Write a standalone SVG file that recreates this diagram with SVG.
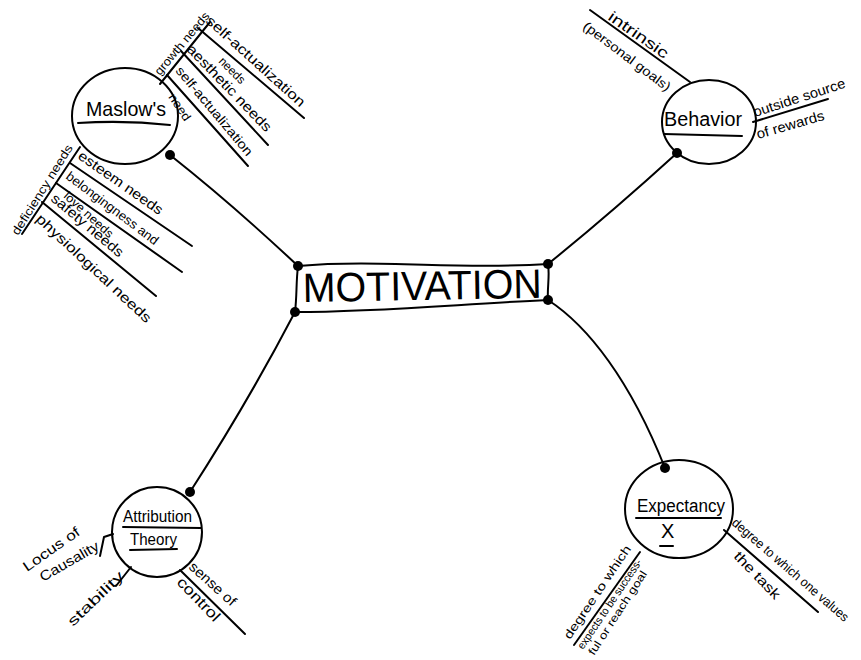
<svg xmlns="http://www.w3.org/2000/svg" width="861" height="660" viewBox="0 0 861 660">
<style>
  .ln{fill:none;stroke:#000;stroke-width:2;stroke-linecap:round;stroke-linejoin:round}
  .dot{fill:#000}
  .t{font-family:"Liberation Sans",Arial,sans-serif;fill:#000}
  .s11{font-size:11px}.s12{font-size:12px}.s13{font-size:13px}.s14{font-size:14px}
</style>
<rect width="861" height="660" fill="#fff"/>

<g id="connectors">
  <path class="ln" d="M170,155 Q232,204 298,266"/>
  <path class="ln" d="M677,153 Q610,214 548,264"/>
  <path class="ln" d="M190,492 Q248,402 295,312"/>
  <path class="ln" d="M548,300 C588,326 630,380 665,468"/>
</g>

<g id="node-motivation">
  <path class="ln" d="M298,266 C380,259 460,270 548,264 C550,276 547,288 548,300 C460,304 380,312 295,312 C297,296 296,282 298,266 Z"/>
  <text class="t" x="303" y="302" font-size="41" textLength="239" lengthAdjust="spacingAndGlyphs" transform="rotate(-1 303 302)">MOTIVATION</text>
  <circle class="dot" cx="298" cy="266" r="5"/>
  <circle class="dot" cx="548" cy="264" r="5"/>
  <circle class="dot" cx="295" cy="312" r="5"/>
  <circle class="dot" cx="548" cy="300" r="5"/>
</g>

<g id="node-maslows">
  <ellipse class="ln" cx="125" cy="116" rx="53" ry="48"/>
  <text class="t" x="86" y="116" font-size="21" textLength="80" lengthAdjust="spacingAndGlyphs">Maslow's</text>
  <path class="ln" d="M78,123 Q125,120 170,125"/>
  <circle class="dot" cx="170" cy="155" r="5"/>
  <!-- growth needs -->
  <path class="ln" d="M160,84 L210,22"/>
  <text class="t s12" transform="translate(160,76) rotate(-50)" textLength="78" lengthAdjust="spacingAndGlyphs">growth needs</text>
  <path class="ln" d="M198,28 L304,118"/>
  <text class="t s14" transform="translate(205,22) rotate(42)" textLength="128" lengthAdjust="spacingAndGlyphs">self-actualization</text>
  <text class="t s12" transform="translate(218,62) rotate(45)" textLength="32" lengthAdjust="spacingAndGlyphs">needs</text>
  <path class="ln" d="M181,51 L268,145"/>
  <text class="t s14" transform="translate(186,50) rotate(46)" textLength="115" lengthAdjust="spacingAndGlyphs">aesthetic needs</text>
  <path class="ln" d="M167,75 L248,166"/>
  <text class="t s13" transform="translate(175,71) rotate(50)" textLength="112" lengthAdjust="spacingAndGlyphs">self-actualization</text>
  <text class="t s12" transform="translate(168,97) rotate(56)" textLength="30" lengthAdjust="spacingAndGlyphs">need</text>
  <!-- deficiency needs -->
  <path class="ln" d="M80,147 L22,234"/>
  <text class="t s12" transform="translate(18,236) rotate(-58)" textLength="104" lengthAdjust="spacingAndGlyphs">deficiency needs</text>
  <path class="ln" d="M70,163 L192,246"/>
  <text class="t s14" transform="translate(77,158) rotate(35)" textLength="100" lengthAdjust="spacingAndGlyphs">esteem needs</text>
  <path class="ln" d="M56,183 L182,272"/>
  <text class="t s13" transform="translate(65,178) rotate(37)" textLength="112" lengthAdjust="spacingAndGlyphs">belongingness and</text>
  <text class="t s12" transform="translate(63,197) rotate(42)" textLength="62" lengthAdjust="spacingAndGlyphs">love needs</text>
  <path class="ln" d="M42,202 L156,296"/>
  <text class="t s14" transform="translate(50,200) rotate(40)" textLength="90" lengthAdjust="spacingAndGlyphs">safety needs</text>
  <text class="t s14" transform="translate(35,220) rotate(43)" textLength="152" lengthAdjust="spacingAndGlyphs">physiological needs</text>
</g>

<g id="node-behavior">
  <ellipse class="ln" cx="709" cy="122" rx="47" ry="42"/>
  <text class="t" x="664" y="126" font-size="20" textLength="78" lengthAdjust="spacingAndGlyphs">Behavior</text>
  <path class="ln" d="M664,134 L742,136"/>
  <circle class="dot" cx="677" cy="153" r="5"/>
  <path class="ln" d="M590,10 L690,82"/>
  <text class="t" font-size="15" transform="translate(607,19) rotate(35)" textLength="70" lengthAdjust="spacingAndGlyphs">intrinsic</text>
  <text class="t s13" transform="translate(582,28) rotate(37)" textLength="106" lengthAdjust="spacingAndGlyphs">(personal goals)</text>
  <path class="ln" d="M753,122 L828,99"/>
  <text class="t s14" transform="translate(755,117) rotate(-18)" textLength="96" lengthAdjust="spacingAndGlyphs">outside source</text>
  <text class="t s14" transform="translate(758,139) rotate(-16)" textLength="70" lengthAdjust="spacingAndGlyphs">of rewards</text>
</g>

<g id="node-attribution">
  <ellipse class="ln" cx="157" cy="532" rx="45" ry="45"/>
  <text class="t" x="123" y="522" font-size="16" textLength="69" lengthAdjust="spacingAndGlyphs">Attribution</text>
  <path class="ln" d="M123,527 L201,528"/>
  <text class="t" x="130" y="545" font-size="16" textLength="47" lengthAdjust="spacingAndGlyphs">Theory</text>
  <path class="ln" d="M130,550 L177,549"/>
  <circle class="dot" cx="190" cy="492" r="5"/>
  <path class="ln" d="M113,534 L104,537 L100,556"/>
  <text class="t s14" transform="translate(27,572) rotate(-35)" textLength="66" lengthAdjust="spacingAndGlyphs">Locus of</text>
  <text class="t s14" transform="translate(43,582) rotate(-30)" textLength="66" lengthAdjust="spacingAndGlyphs">Causality</text>
  <path class="ln" d="M131,567 L116,586"/>
  <text class="t s14" transform="translate(73,627) rotate(-44)" textLength="72" lengthAdjust="spacingAndGlyphs">stability</text>
  <path class="ln" d="M180,570 L245,634"/>
  <text class="t s14" transform="translate(188,568) rotate(42)" textLength="58" lengthAdjust="spacingAndGlyphs">sense of</text>
  <text class="t" font-size="15" transform="translate(176,583) rotate(46)" textLength="55" lengthAdjust="spacingAndGlyphs">control</text>
</g>

<g id="node-expectancy">
  <ellipse class="ln" cx="679" cy="509" rx="54" ry="49"/>
  <text class="t" x="637" y="512" font-size="18" textLength="88" lengthAdjust="spacingAndGlyphs">Expectancy</text>
  <path class="ln" d="M636,518 L721,518"/>
  <text class="t" x="661" y="538" font-size="20">X</text>
  <path class="ln" d="M660,546 L673,546"/>
  <circle class="dot" cx="665" cy="468" r="5"/>
  <path class="ln" d="M574,645 L640,552"/>
  <text class="t s12" transform="translate(570,640) rotate(-56)" textLength="110" lengthAdjust="spacingAndGlyphs">degree to which</text>
  <text class="t s11" transform="translate(583,650) rotate(-56)" textLength="106" lengthAdjust="spacingAndGlyphs">expects to be success-</text>
  <text class="t s11" transform="translate(594,656) rotate(-57)" textLength="98" lengthAdjust="spacingAndGlyphs">ful or reach goal</text>
  <path class="ln" d="M724,530 L818,612"/>
  <text class="t s13" transform="translate(731,524) rotate(41)" textLength="150" lengthAdjust="spacingAndGlyphs">degree to which one values</text>
  <text class="t s14" transform="translate(733,557) rotate(46)" textLength="60" lengthAdjust="spacingAndGlyphs">the task</text>
</g>
</svg>
